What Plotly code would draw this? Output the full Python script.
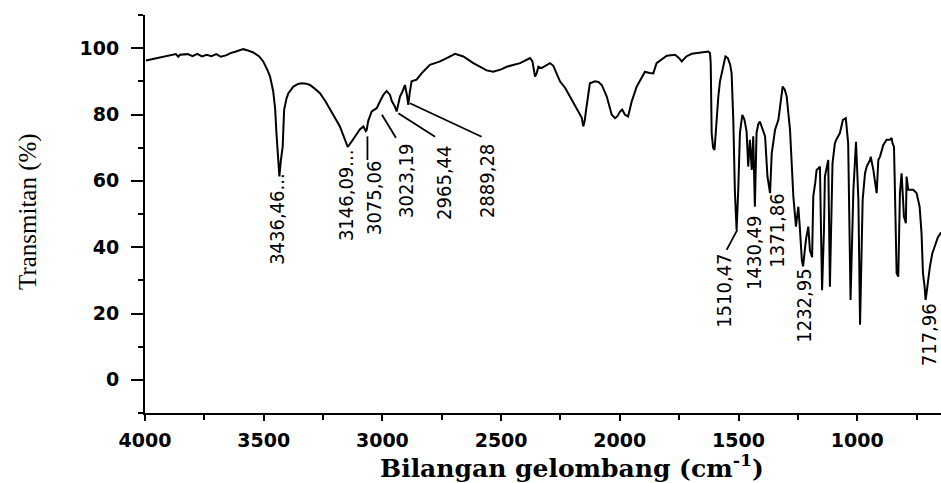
import plotly.graph_objects as go

# ---------------- data ----------------
wavenumber = [
    3996, 3960, 3937, 3900, 3870, 3860, 3853, 3820, 3800, 3780, 3760, 3740, 3720, 3700, 3680,
    3656, 3640, 3620, 3600, 3586, 3570, 3544, 3520, 3502, 3485, 3473, 3460, 3452, 3446, 3443,
    3438, 3434, 3428, 3420, 3414, 3404, 3396, 3375, 3355, 3340, 3320, 3305, 3285, 3263, 3240,
    3221, 3200, 3179, 3160, 3146, 3130, 3115, 3095, 3080, 3070, 3066, 3060, 3045, 3035, 3024,
    3010, 2996, 2982, 2968, 2960, 2954, 2948, 2940, 2932, 2926, 2915, 2905, 2897, 2891, 2885,
    2877, 2856, 2835, 2800, 2757, 2729, 2694, 2659, 2617, 2561, 2533, 2500, 2476, 2420, 2378,
    2368, 2357, 2350, 2343, 2330, 2310, 2294, 2280, 2252, 2230, 2210, 2190, 2175, 2160, 2154,
    2148, 2142, 2126, 2104, 2090, 2076, 2055, 2034, 2020, 2010, 1999, 1990, 1978, 1965, 1950,
    1929, 1910, 1894, 1875, 1859, 1845, 1820, 1802, 1767, 1750, 1739, 1720, 1697, 1662, 1640,
    1627, 1620, 1617, 1613, 1607, 1601, 1596, 1585, 1578, 1564, 1555, 1545, 1535, 1529, 1522,
    1515, 1508, 1501, 1494, 1484, 1475, 1466, 1459, 1452, 1444, 1438, 1431, 1424, 1417, 1410,
    1400, 1388, 1378, 1367, 1360, 1346, 1332, 1320, 1314, 1305, 1297, 1283, 1269, 1258, 1248,
    1241, 1233, 1228, 1216, 1206, 1199, 1190, 1185, 1177, 1171, 1163, 1157, 1148, 1140, 1136,
    1122, 1115, 1104, 1094, 1088, 1073, 1060, 1048, 1038, 1028, 1016, 1005, 995, 988, 977,
    967, 960, 946, 943, 932, 918, 911, 904, 890, 876, 862, 855, 851, 845, 842,
    838, 834, 827, 820, 813, 803, 795, 792, 785, 778, 764, 750, 743, 737, 729,
    723, 716, 712, 708, 700, 694, 684, 673, 660, 647,
]
transmittance = [
    96.3, 96.8, 97.2, 97.6, 98.2, 97.4, 98.0, 98.2, 97.6, 98.3, 97.5, 98.0, 97.6, 98.2, 97.4,
    97.9, 98.5, 98.9, 99.3, 99.7, 99.4, 98.7, 97.6, 96.0, 93.5, 91.4, 87.0, 81.9, 74.0, 70.8,
    63.0, 61.3, 66.0, 70.3, 81.4, 84.8, 86.4, 88.4, 89.2, 89.4, 89.3, 88.9, 87.8, 86.4, 84.0,
    81.4, 79.0, 76.4, 73.0, 70.2, 71.8, 73.4, 75.5, 76.4, 75.0, 75.4, 78.0, 80.9, 81.3, 81.9,
    84.0, 85.9, 87.1, 85.9, 84.0, 83.4, 82.5, 80.9, 83.0, 85.4, 87.0, 88.9, 86.0, 82.9, 86.5,
    90.0, 90.5, 92.4, 95.0, 96.0, 97.0, 98.3, 97.5, 95.5, 93.3, 92.9, 93.6, 94.4, 95.5, 97.0,
    96.0, 91.4, 92.5, 94.4, 94.0, 94.8, 95.5, 94.7, 90.0, 88.0, 85.4, 83.0, 80.9, 79.0, 76.4,
    78.0, 81.4, 89.4, 90.0, 89.8, 88.9, 85.4, 79.9, 78.9, 79.5, 80.9, 81.5, 79.9, 79.4, 83.9,
    88.4, 91.0, 92.9, 92.5, 92.4, 95.5, 96.8, 97.7, 98.0, 97.0, 96.0, 97.5, 98.3, 98.7, 98.9,
    99.0, 98.5, 95.5, 74.4, 70.0, 69.3, 75.0, 85.4, 90.0, 95.0, 97.5, 97.0, 95.0, 92.4, 78.4,
    56.3, 45.2, 57.3, 74.4, 79.9, 78.5, 74.9, 64.3, 72.4, 63.3, 73.4, 52.2, 74.4, 77.0, 77.9,
    76.0, 73.4, 61.3, 56.3, 68.3, 75.4, 78.4, 85.5, 88.4, 87.5, 85.4, 75.4, 55.3, 46.2, 52.2,
    45.2, 36.0, 34.2, 42.2, 46.2, 39.0, 37.0, 55.3, 59.3, 63.3, 63.8, 64.3, 27.0, 45.0, 61.3,
    66.3, 28.1, 65.3, 71.3, 72.4, 74.4, 78.4, 78.9, 71.3, 24.1, 57.3, 71.8, 54.3, 16.6, 54.3,
    62.3, 64.3, 66.3, 67.3, 63.3, 56.3, 66.3, 67.3, 70.8, 72.4, 72.4, 72.9, 71.3, 70.3, 60.3,
    37.2, 32.2, 31.1, 56.3, 62.3, 49.2, 47.2, 61.3, 57.3, 57.3, 57.3, 56.3, 54.3, 52.2, 44.2,
    32.2, 28.0, 24.1, 26.1, 31.0, 34.0, 38.0, 40.5, 43.0, 44.4,
]

# peak labels: text, anchor (top end of the rotated text) in data units
peak_labels = ["3436,46...", "3146,09...", "3075,06", "3023,19", "2965,44", "2889,28",
               "1510,47", "1430,49", "1371,86", "1232,95", "717,96"]
label_wn = [3444, 3153, 3035, 2901, 2741, 2559, 1561, 1435, 1338, 1224, 698]
label_t = [62.7, 69.9, 66.3, 71.4, 70.8, 71.4, 38.3, 49.7, 56.4, 33.8, 23.5]

# leader lines: (from wn, from T, to wn, to T)
leader_wn0 = [3063, 3002, 2933, 2884, 1505]
leader_t0 = [73.4, 79.9, 80.4, 83.4, 45.2]
leader_wn1 = [3063, 2943, 2778, 2582, 1550]
leader_t1 = [66.3, 73.0, 73.3, 73.3, 39.2]

x_ticks = [4000, 3500, 3000, 2500, 2000, 1500, 1000]
y_ticks = [0, 20, 40, 60, 80, 100]

# ---------------- figure ----------------
fig = go.Figure()
fig.add_trace(go.Scatter(x=wavenumber, y=transmittance, mode="lines",
                         line=dict(color="black", width=2), showlegend=False,
                         hoverinfo="skip"))

label_font = dict(family="DejaVu Sans Condensed, Liberation Sans Narrow, Arial Narrow",
                  size=20, color="black")
annotations = []
for txt, xw, yt in zip(peak_labels, label_wn, label_t):
    annotations.append(dict(x=xw, y=yt, xref="x", yref="y", text=txt, showarrow=False,
                            textangle=-90, xanchor="center", yanchor="top",
                            font=label_font, borderpad=0))

annotations.append(dict(x=0, y=0.505, xref="paper", yref="paper", xshift=-117,
                        text="Transmitan (%)", showarrow=False, textangle=-90,
                        xanchor="center", yanchor="middle",
                        font=dict(family="Liberation Serif, Times New Roman", size=25,
                                  color="black")))
annotations.append(dict(x=0.536, y=0, xref="paper", yref="paper", yshift=-53,
                        text="<b>Bilangan gelombang (cm<sup>-1</sup>)</b>", showarrow=False,
                        xanchor="center", yanchor="middle",
                        font=dict(family="DejaVu Serif, Liberation Serif", size=25,
                                  color="black")))

shapes = []
for a, b, c, d in zip(leader_wn0, leader_t0, leader_wn1, leader_t1):
    shapes.append(dict(type="line", xref="x", yref="y", x0=a, y0=b, x1=c, y1=d,
                       line=dict(color="black", width=1.8)))

tick_font = dict(family="DejaVu Sans", size=19, color="black", weight="bold")

fig.update_layout(
    width=941, height=483,
    margin=dict(l=145, r=0, t=15, b=70, pad=0),
    paper_bgcolor="white", plot_bgcolor="white",
    annotations=annotations, shapes=shapes,
    xaxis=dict(range=[4000, 647], tickvals=x_ticks, ticks="outside", ticklen=6,
               tickwidth=2, tickcolor="black", showline=True, linecolor="black",
               linewidth=2, showgrid=False, zeroline=False, tickfont=tick_font,
               minor=dict(dtick=250, ticks="outside", ticklen=5, tickwidth=2,
                          tickcolor="black", tick0=4000),
               ticklabelstandoff=3),
    yaxis=dict(range=[-10, 110], tickvals=y_ticks, ticks="outside", ticklen=12,
               tickwidth=2, tickcolor="black", showline=True, linecolor="black",
               linewidth=2, showgrid=False, zeroline=False, tickfont=tick_font,
               minor=dict(dtick=10, tick0=0, ticks="outside", ticklen=5, tickwidth=2,
                          tickcolor="black"),
               ticklabelstandoff=8),
)

# remove the default page margin so the figure fills the 941x483 window exactly
fig.write_html("out.html",
               config={"displayModeBar": False},
               post_script="document.body.style.margin='0';"
                           "document.body.style.overflow='hidden';")
